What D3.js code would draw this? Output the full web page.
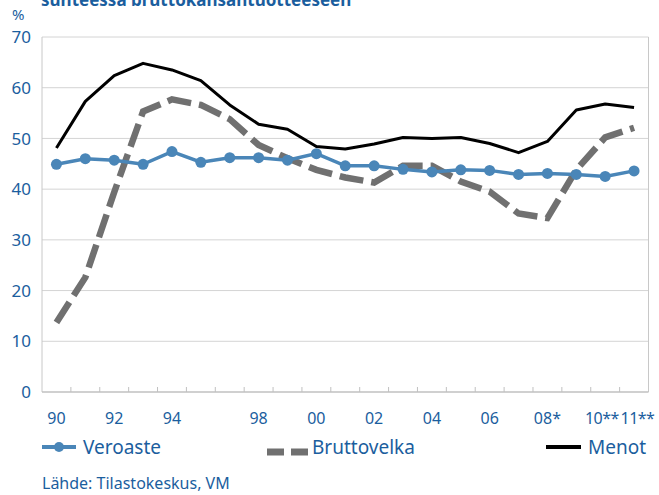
<!DOCTYPE html>
<html>
<head>
<meta charset="utf-8">
<script src="https://cdn.jsdelivr.net/npm/d3@7"></script>
<style>
  body { margin: 0; background: #fff; }
  text { font-family: "Noto Sans", "Open Sans", sans-serif; }
</style>
</head>
<body>
<div id="chart"></div>
<script>
// categories (one year is skipped in the source chart)
const years = ["1990", "1991", "1992", "1993", "1994", "1995", "1997", "1998", "1999", "2000",
  "2001", "2002", "2003", "2004", "2005", "2006", "2007", "2008", "2009", "2010", "2011"];
const tickLabels = ["90", "", "92", "", "94", "", "", "98", "", "00",
  "", "02", "", "04", "", "06", "", "08*", "", "10**", "11**"];

const veroaste = [44.9, 46.0, 45.7, 44.9, 47.4, 45.3, 46.2, 46.2, 45.7, 47.0,
  44.6, 44.6, 43.9, 43.4, 43.8, 43.7, 42.9, 43.1, 42.9, 42.5, 43.6];
const bruttovelka = [13.7, 22.6, 39.4, 55.3, 57.7, 56.6, 53.8, 48.7, 46.1, 43.8,
  42.3, 41.3, 44.6, 44.6, 41.5, 39.5, 35.2, 34.3, 43.8, 50.2, 52.1];
const menot = [48.1, 57.3, 62.4, 64.8, 63.5, 61.4, 56.6, 52.8, 51.8, 48.4,
  47.9, 48.9, 50.2, 50.0, 50.2, 49.0, 47.2, 49.4, 55.6, 56.8, 56.1];

const yTicks = [0, 10, 20, 30, 40, 50, 60, 70];

const width = 659, height = 495;
const textBlue = "#1b5e9e";
const lineBlue = "#4a86b8";
const gray = "#707070";

const svg = d3.select("#chart").append("svg")
  .attr("width", width)
  .attr("height", height);

const x = d3.scaleBand().domain(years).range([42, 648.5]).padding(0);
const y = d3.scaleLinear().domain([0, 70]).range([392, 37]);
const cx = (i) => x(years[i]) + x.bandwidth() / 2;

// title (cut off at the top in the reference)
svg.append("text")
  .attr("x", 41).attr("y", 6)
  .attr("fill", textBlue)
  .style("font-size", "17px")
  .style("font-weight", "bold")
  .text("suhteessa bruttokansantuotteeseen");

svg.append("text")
  .attr("x", 12).attr("y", 20)
  .attr("fill", textBlue)
  .style("font-size", "15px")
  .text("%");

// gridlines
svg.append("g")
  .selectAll("line")
  .data(yTicks.slice(1))
  .enter()
  .append("line")
  .attr("x1", 42).attr("x2", 648.5)
  .attr("y1", (d) => y(d)).attr("y2", (d) => y(d))
  .attr("stroke", "#d4d4d4")
  .attr("stroke-width", 1);

// frame left / right
svg.append("line").attr("x1", 42).attr("x2", 42).attr("y1", y(70)).attr("y2", y(0))
  .attr("stroke", "#c8c8c8");
svg.append("line").attr("x1", 648.5).attr("x2", 648.5).attr("y1", y(70)).attr("y2", y(0))
  .attr("stroke", "#c8c8c8");

// y labels
svg.append("g")
  .selectAll("text")
  .data(yTicks)
  .enter()
  .append("text")
  .attr("x", 31)
  .attr("y", (d) => y(d))
  .attr("dy", "0.36em")
  .attr("text-anchor", "end")
  .attr("fill", textBlue)
  .style("font-size", "17px")
  .text((d) => d);

// x axis: line, ticks on band edges, labels
svg.append("line").attr("x1", 42).attr("x2", 648.5).attr("y1", y(0)).attr("y2", y(0))
  .attr("stroke", "#c0c0c0").attr("stroke-width", 1.5);

svg.append("g")
  .selectAll("line")
  .data(years.slice(1))
  .enter()
  .append("line")
  .attr("x1", (d) => x(d)).attr("x2", (d) => x(d))
  .attr("y1", y(0)).attr("y2", y(0) - 5)
  .attr("stroke", "#c0c0c0");

// the last two labels are too wide for their bands, push them apart at the shared edge
const last = tickLabels.length - 1;
svg.append("g")
  .selectAll("text")
  .data(tickLabels)
  .enter()
  .append("text")
  .attr("x", (d, i) => {
    if (i === last - 1) return x(years[last]) - 1;
    if (i === last) return x(years[last]) + 1;
    return cx(i);
  })
  .attr("y", 424)
  .attr("text-anchor", (d, i) => (i === last - 1 ? "end" : i === last ? "start" : "middle"))
  .attr("fill", textBlue)
  .style("font-size", "16px")
  .style("letter-spacing", (d, i) => (i >= last - 1 ? "-0.6px" : "0px"))
  .text((d) => d);

// lines
const line = (vals) => d3.line()
  .x((d, i) => cx(i))
  .y((d) => y(d))(vals);

svg.append("path")
  .attr("d", line(bruttovelka))
  .attr("fill", "none")
  .attr("stroke", gray)
  .attr("stroke-width", 6.5)
  .attr("stroke-dasharray", "24,8");

svg.append("path")
  .attr("d", line(menot))
  .attr("fill", "none")
  .attr("stroke", "#000")
  .attr("stroke-width", 3)
  .attr("stroke-linejoin", "round");

svg.append("path")
  .attr("d", line(veroaste))
  .attr("fill", "none")
  .attr("stroke", lineBlue)
  .attr("stroke-width", 3.5);

svg.append("g")
  .selectAll("circle")
  .data(veroaste)
  .enter()
  .append("circle")
  .attr("cx", (d, i) => cx(i))
  .attr("cy", (d) => y(d))
  .attr("r", 5.5)
  .attr("fill", lineBlue);

// legend
const legend = svg.append("g");
legend.append("line").attr("x1", 42).attr("x2", 76).attr("y1", 447).attr("y2", 447)
  .attr("stroke", lineBlue).attr("stroke-width", 4);
legend.append("circle").attr("cx", 59).attr("cy", 447).attr("r", 5).attr("fill", lineBlue);
legend.append("text").attr("x", 83).attr("y", 454).attr("fill", textBlue)
  .style("font-size", "19px").text("Veroaste");

legend.append("line").attr("x1", 267).attr("x2", 308).attr("y1", 452).attr("y2", 452)
  .attr("stroke", gray).attr("stroke-width", 7).attr("stroke-dasharray", "17,7");
legend.append("text").attr("x", 312).attr("y", 454).attr("fill", textBlue)
  .style("font-size", "19px").text("Bruttovelka");

legend.append("line").attr("x1", 546).attr("x2", 581).attr("y1", 447).attr("y2", 447)
  .attr("stroke", "#000").attr("stroke-width", 4);
legend.append("text").attr("x", 588).attr("y", 454).attr("fill", textBlue)
  .style("font-size", "19px").text("Menot");

// source
svg.append("text")
  .attr("x", 42).attr("y", 489)
  .attr("fill", textBlue)
  .style("font-size", "16px")
  .text("Lähde: Tilastokeskus, VM");
</script>
</body>
</html>
